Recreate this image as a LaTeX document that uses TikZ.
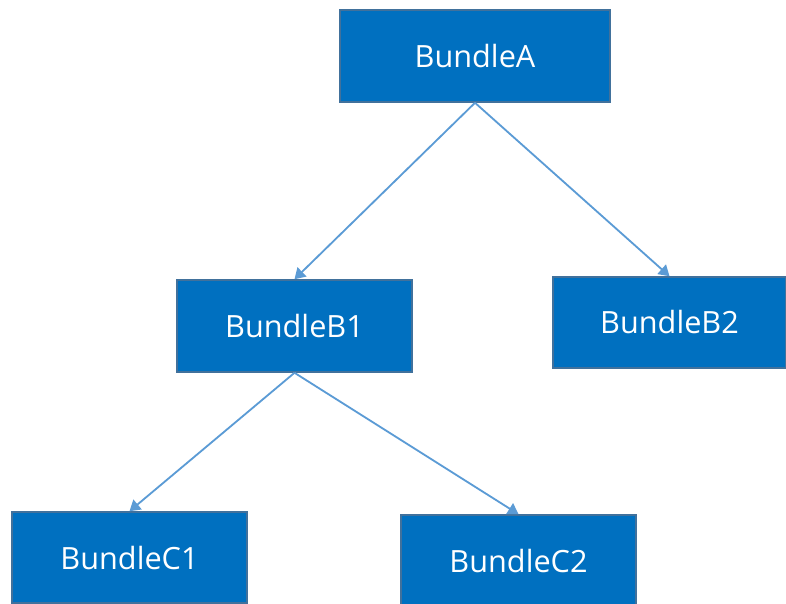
\documentclass[tikz,border=0pt]{standalone}
\usepackage{fontspec}
\setmainfont{Open Sans}
\usetikzlibrary{arrows.meta}
\definecolor{boxfill}{HTML}{0070C0}
\definecolor{boxline}{HTML}{41719C}
\definecolor{linkcol}{HTML}{5B9BD5}
\tikzset{
  bundle/.style={draw=boxline, line width=1.1pt, fill=boxfill, text=white,
    minimum width=5.875cm, minimum height=2.3cm, inner sep=0pt,
    font=\fontsize{21.8}{26}\selectfont},
  link/.style={linkcol, line width=1.3pt, -{Triangle[width=9pt,length=7.5pt]}}
}
\begin{document}
\begin{tikzpicture}[x=0.025cm, y=-0.025cm]
  \useasboundingbox (0,0) rectangle (786,603);
  \node[bundle, minimum width=6.75cm] (A)  at (475,56)    {BundleA};
  \node[bundle]                       (B1) at (294.5,326) {BundleB1};
  \node[bundle, minimum width=5.825cm, minimum height=2.275cm] (B2) at (669.5,322.5) {BundleB2};
  \node[bundle, minimum height=2.275cm] (C1) at (129.5,557.5) {BundleC1};
  \node[bundle]                       (C2) at (518.5,561) {BundleC2};
  \draw[link] (A.south) -- (B1.north);
  \draw[link] (A.south) -- (B2.north);
  \draw[link] (B1.south) -- (C1.north);
  \draw[link] (B1.south) -- (C2.north);
\end{tikzpicture}
\end{document}
